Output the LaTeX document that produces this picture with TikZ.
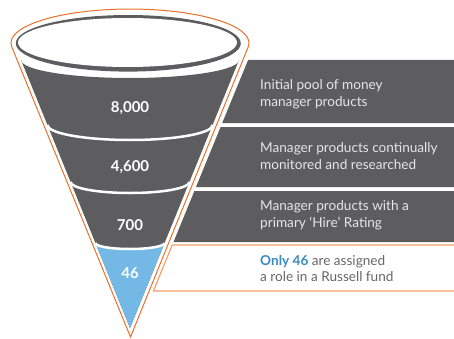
\documentclass[tikz,border=0pt]{standalone}
\usepackage{fontspec}
\setmainfont{Lato}
\definecolor{funnelgray}{HTML}{5D5D5F}
\definecolor{funnelblue}{HTML}{74B9E6}
\definecolor{outlineorange}{HTML}{E8702A}
\definecolor{boxorange}{HTML}{F2A06A}
\definecolor{textblue}{HTML}{3A8CBE}
\definecolor{textgray}{HTML}{666666}
\definecolor{boxtextgray}{HTML}{E6E6E6}

\begin{document}
\begin{tikzpicture}[x=1pt, y=1pt,
    numlabel/.style={text=white, font=\fontsize{15}{18}\selectfont\bfseries},
    boxtext/.style={anchor=base west, inner sep=0pt, text=boxtextgray, font=\fontsize{13.6}{16}\selectfont},
    sepline/.style={white, line width=2.5},
    outline/.style={outlineorange, line width=1},
    boxline/.style={boxorange, line width=1.2}]
    \useasboundingbox (0,0) rectangle (454,338);
    % Boxes
    \fill[funnelgray] (248.1,278) -- (454,278) -- (454,215) -- (222.2,215) -- cycle;
    \fill[funnelgray] (220.6,211) -- (454,211) -- (454,151) -- (196.0,151) -- cycle;
    \fill[funnelgray] (194.4,147) -- (454,147) -- (454,96) -- (173.5,96) -- cycle;
    \draw[boxline] (454,93) -- (172.2,93) -- (153.4,47) -- (454,47);
    % Outline
    \draw[outline] (130.5,1) -- (11.8,291) arc[start angle=186.7, end angle=-6.7, x radius=119, y radius=34] -- cycle;
    % Rim
    \fill[funnelgray] (128.3,294.7) ellipse[x radius=112.5, y radius=28.3];
    \fill[white] (127.5,295.5) ellipse[x radius=109.5, y radius=24.5];
    % Funnel body
    \fill[funnelgray] (130,10) -- (21,278) arc[start angle=180, end angle=360, x radius=109, y radius=18] -- cycle;
    \fill[funnelblue] (130,10) -- (95.4,95) arc[start angle=180, end angle=360, x radius=34.6, y radius=6] -- cycle;
    \draw[sepline] (47.4,213) arc[start angle=180, end angle=360, x radius=82.6, y radius=15];
    \draw[sepline] (70.6,156) arc[start angle=180, end angle=360, x radius=59.4, y radius=11];
    \draw[sepline] (95.4,95) arc[start angle=180, end angle=360, x radius=34.6, y radius=6];
    % Numbers
    \node[numlabel] (n8000) at (130,230) {8,000};
    \node[numlabel] (n4600) at (130,171) {4,600};
    \node[numlabel] (n700) at (130,113) {700};
    \node[numlabel] (n46) at (130,65) {46};
    % Texts
    \node[boxtext] (pool1) at (260,248.7) {Initial pool of money};
    \node[boxtext] (pool2) at (260,232) {manager products};
    \node[boxtext] (mon1) at (260,185.3) {Manager products continually};
    \node[boxtext] (mon2) at (260,168.7) {monitored and researched};
    \node[boxtext] (hire1) at (260,127.3) {Manager products with a};
    \node[boxtext] (hire2) at (260,110.3) {primary ‘Hire’ Rating};
    \node[boxtext, text=textgray] (fund1) at (260,73) {{\color{textblue}\bfseries Only 46} are assigned};
    \node[boxtext, text=textgray] (fund2) at (260,56.3) {a role in a Russell fund};
\end{tikzpicture}
\end{document}
